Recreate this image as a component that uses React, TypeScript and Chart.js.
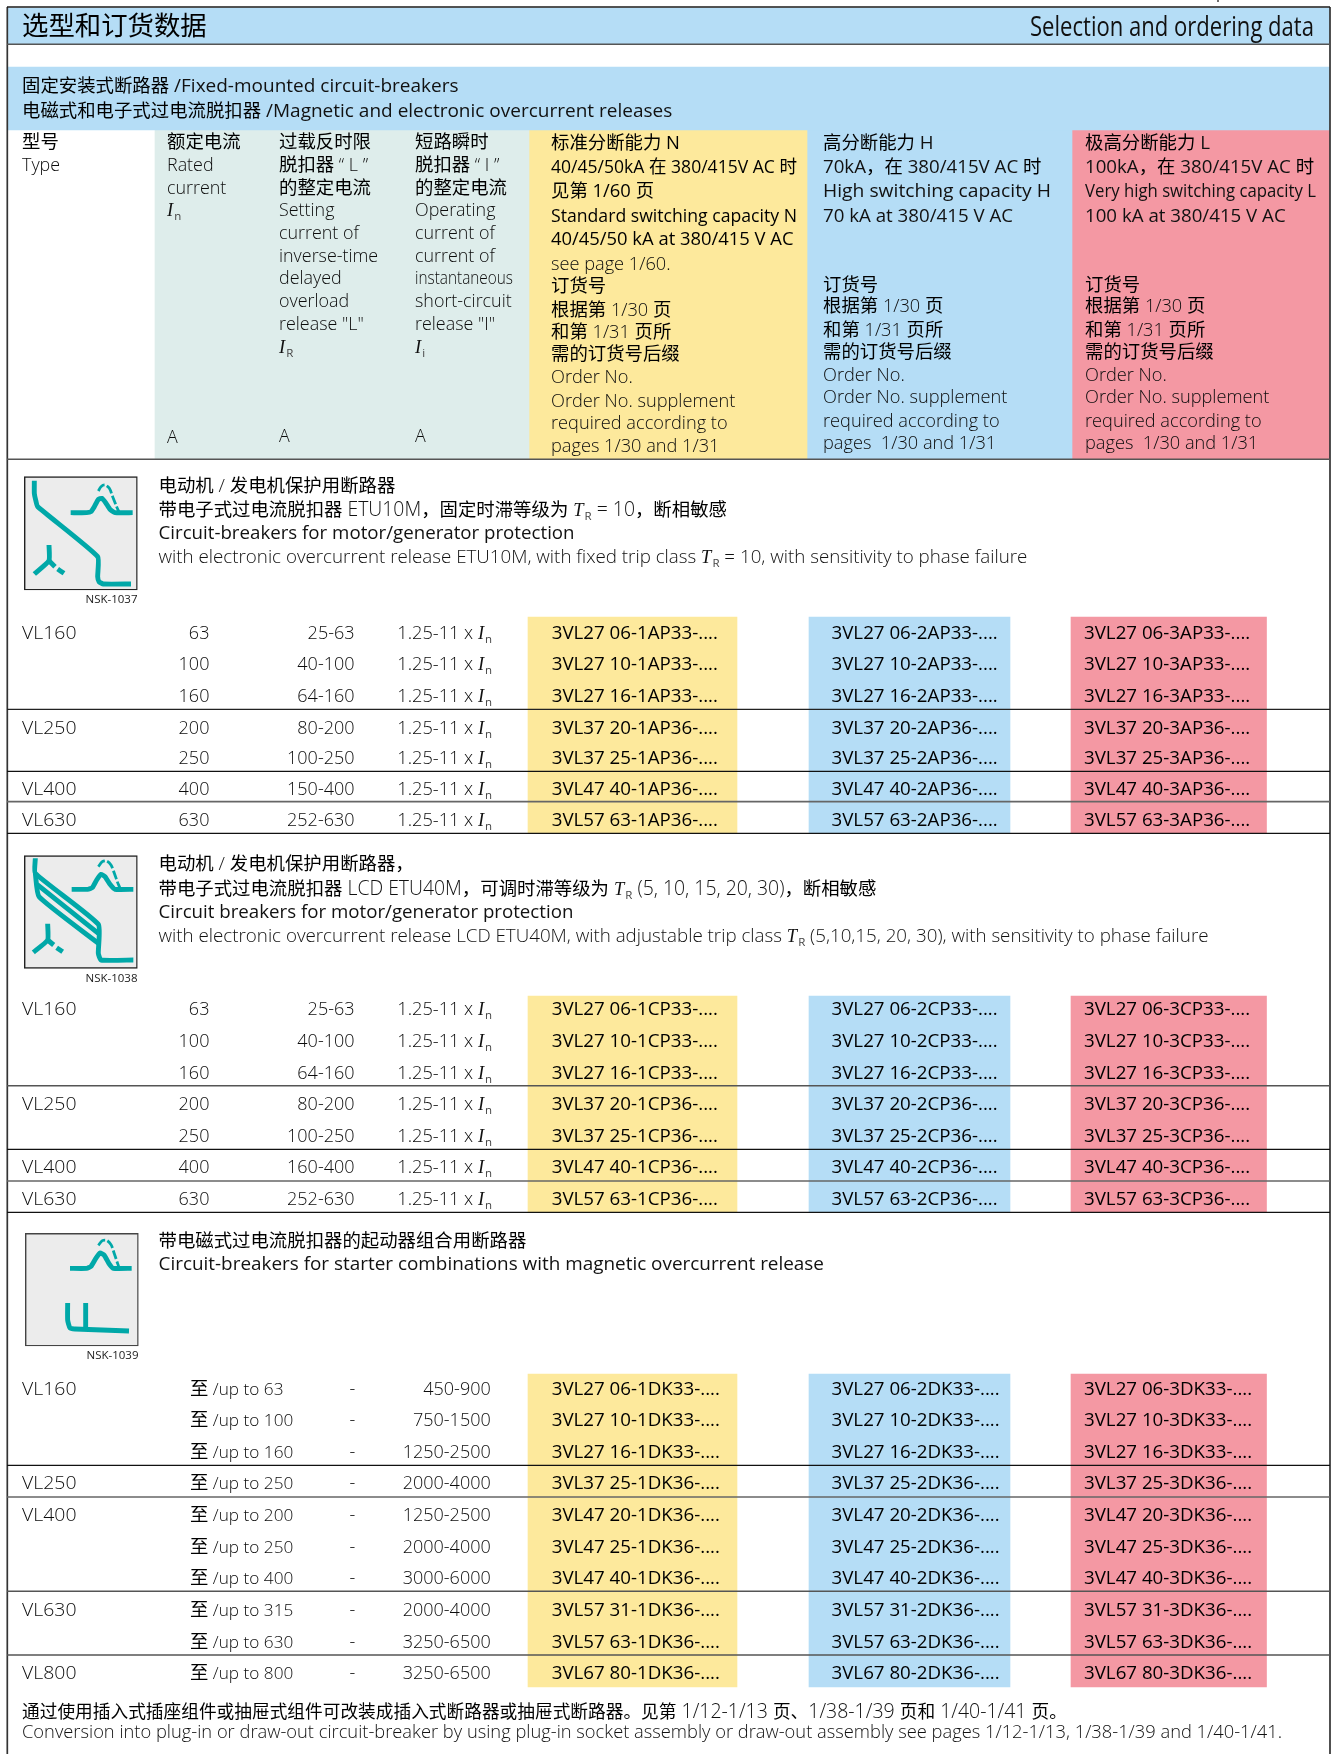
import React, { useEffect, useRef } from "react";
import { Chart, registerables } from "chart.js";
Chart.register(...registerables);

// ---------- content ----------
const TITLE_ZH = "选型和订货数据";
const TITLE_EN = "Selection and ordering data";
const BAND_LINES = ["固定安装式断路器 /Fixed-mounted circuit-breakers", "电磁式和电子式过电流脱扣器 /Magnetic and electronic overcurrent releases"];
const HEAD_TYPE = ["型号", "Type"];
const HEAD_RATED = ["额定电流", "Rated", "current", "{I|n}"];
const HEAD_SETTING = ["过载反时限", "脱扣器 “ L ”", "的整定电流", "Setting", "current of", "inverse-time", "delayed", "overload", 'release "L"', "{I|R}"];
const HEAD_OPERATING = ["短路瞬时", "脱扣器 “ I ”", "的整定电流", "Operating", "current of", "current of", "instantaneous", "short-circuit", 'release "I"', "{I|i}"];
const HEAD_N = ["标准分断能力 N", "40/45/50kA 在 380/415V AC 时", "见第 1/60 页", "Standard switching capacity N", "40/45/50 kA at 380/415 V AC", "see page 1/60.", "订货号", "根据第 1/30 页", "和第 1/31 页所", "需的订货号后缀", "Order No.", "Order No. supplement", "required according to", "pages 1/30 and 1/31"];
const HEAD_H_TOP = ["高分断能力 H", "70kA，在 380/415V AC 时", "High switching capacity H", "70 kA at 380/415 V AC"];
const HEAD_L_TOP = ["极高分断能力 L", "100kA，在 380/415V AC 时", "Very high switching capacity L", "100 kA at 380/415 V AC"];
const HEAD_LOW = ["订货号", "根据第 1/30 页", "和第 1/31 页所", "需的订货号后缀", "Order No.", "Order No. supplement", "required according to", "pages  1/30 and 1/31"];
const UNIT = "A";

const G1_TEXT = ["电动机 / 发电机保护用断路器", "带电子式过电流脱扣器 ETU10M，固定时滞等级为 {T|R} = 10，断相敏感", "Circuit-breakers for motor/generator protection", "with electronic overcurrent release ETU10M, with fixed trip class {T|R} = 10, with sensitivity to phase failure"];
const G2_TEXT = ["电动机 / 发电机保护用断路器，", "带电子式过电流脱扣器 LCD ETU40M，可调时滞等级为 {T|R} (5, 10, 15, 20, 30)，断相敏感", "Circuit breakers for motor/generator protection", "with electronic overcurrent release LCD ETU40M, with adjustable trip class {T|R} (5,10,15, 20, 30), with sensitivity to phase failure"];
const G3_TEXT = ["带电磁式过电流脱扣器的起动器组合用断路器", "Circuit-breakers for starter combinations with magnetic overcurrent release"];
const ICON_CODES = ["NSK-1037", "NSK-1038", "NSK-1039"];

const G1_TYPES = ["VL160", "", "", "VL250", "", "VL400", "VL630"];
const G1_RATED = ["63", "100", "160", "200", "250", "400", "630"];
const G1_SETTING = ["25-63", "40-100", "64-160", "80-200", "100-250", "150-400", "252-630"];
const G1_OPERATING = "1.25-11 x {I|n}";
const G1_STEMS = ["3VL27 06", "3VL27 10", "3VL27 16", "3VL37 20", "3VL37 25", "3VL47 40", "3VL57 63"];
const G1_TAILS = ["AP33", "AP33", "AP33", "AP36", "AP36", "AP36", "AP36"];

const G2_TYPES = ["VL160", "", "", "VL250", "", "VL400", "VL630"];
const G2_RATED = ["63", "100", "160", "200", "250", "400", "630"];
const G2_SETTING = ["25-63", "40-100", "64-160", "80-200", "100-250", "160-400", "252-630"];
const G2_STEMS = ["3VL27 06", "3VL27 10", "3VL27 16", "3VL37 20", "3VL37 25", "3VL47 40", "3VL57 63"];
const G2_TAILS = ["CP33", "CP33", "CP33", "CP36", "CP36", "CP36", "CP36"];

const G3_TYPES = ["VL160", "", "", "VL250", "VL400", "", "", "VL630", "", "VL800"];
const G3_UPTO = ["63", "100", "160", "250", "200", "250", "400", "315", "630", "800"];
const G3_RANGE = ["450-900", "750-1500", "1250-2500", "2000-4000", "1250-2500", "2000-4000", "3000-6000", "2000-4000", "3250-6500", "3250-6500"];
const G3_STEMS = ["3VL27 06", "3VL27 10", "3VL27 16", "3VL37 25", "3VL47 20", "3VL47 25", "3VL47 40", "3VL57 31", "3VL57 63", "3VL67 80"];
const G3_TAILS = ["DK33", "DK33", "DK33", "DK36", "DK36", "DK36", "DK36", "DK36", "DK36", "DK36"];
const BREAKING_DIGITS = ["1", "2", "3"];

const FOOT_ZH = "通过使用插入式插座组件或抽屉式组件可改装成插入式断路器或抽屉式断路器。见第 1/12-1/13 页、1/38-1/39 页和 1/40-1/41 页。";
const FOOT_EN = "Conversion into plug-in or draw-out circuit-breaker by using plug-in socket assembly or draw-out assembly see pages 1/12-1/13, 1/38-1/39 and 1/40-1/41.";

// ---------- layout (page units) ----------
const W = 1337, H = 1754;
const C = { blue: "#b5ddf6", yellow: "#fde99c", green: "#deedeb", red: "#f498a3", teal: "#00a8a8", box: "#ececec", ink: "#000", soft: "#0c0c0c" };
const G1_Y = [632.7, 663.7, 695.7, 727.7, 757.7, 788.7, 819.7];
const G2_Y = [1008.3, 1040.3, 1072.3, 1103.7, 1135.7, 1166.7, 1198.7];
const G3_Y = [1389, 1420, 1451.7, 1482.7, 1514.7, 1546.7, 1577.7, 1609.7, 1641.7, 1672.7];
const ORDER_X = [551.7, 831.5, 1084];
const BLOCK_X = [[528, 737], [809, 1010], [1071, 1266.5]];
const BLOCK_Y = [[617, 833], [996, 1212], [1374, 1687]];
const LINE_Y_10 = [141.7, 165, 187.7, 210, 232.7, 256, 278, 301, 324, 347];
const LINE_Y_N = [142.7, 166.7, 190.7, 215, 238.7, 263, 285.7, 309, 331.7, 353, 376.7, 400, 422, 445];
const LINE_Y_TOP = [142.7, 166.7, 190.7, 215];
const LINE_Y_LOW = [284, 305.7, 329, 351.7, 374, 396.7, 420, 442.3];
const RULES: [number, string, number][] = [
  [7, "#1a1a1a", 1.6], [44.3, "#555", 1.4], [459.3, "#555", 1.6],
  [709.3, "#222", 1.2], [771.3, "#111", 1.2], [801.7, "#666", 1.7], [833.3, "#111", 1.2],
  [1085.7, "#555", 1.5], [1149.3, "#111", 1.2], [1181, "#666", 1.7], [1212.3, "#111", 1.2],
  [1465.3, "#111", 1.2], [1497, "#666", 1.6], [1591.3, "#555", 1.5], [1655, "#555", 1.5],
];
const ICON_ORIGIN = [[15, 465], [15, 845], [15, 1222]];
const ICON_BOX = [[28, 367, 35, 375], [28, 367, 32, 370], [31, 370, 34, 372]];
type P = [number, number];
const ICON_STROKES: P[][][] = [
  [
    [[58, 47], [58, 85], [62, 105], [68, 125], [248, 275], [248, 335], [252, 350], [265, 357], [348, 357]],
    [[167, 143], [215, 143], [228, 140], [238, 125], [250, 103], [260, 100], [272, 113], [285, 133], [300, 143], [353, 143]],
    [[102, 240], [102, 287], [58, 327]], [[102, 287], [120, 305]], [[128, 312], [147, 325]],
  ],
  [
    [[61, 40], [61, 85], [250, 238], [250, 325], [258, 345], [355, 345]],
    [[61, 85], [72, 155], [250, 295]], [[66, 118], [250, 265]],
    [[170, 133], [218, 133], [232, 128], [245, 105], [258, 88], [270, 95], [285, 118], [300, 133], [355, 133]],
    [[98, 236], [98, 285], [55, 322]], [[98, 285], [116, 300]], [[125, 308], [143, 320]],
  ],
  [
    [[165, 139], [215, 139], [228, 133], [242, 110], [255, 93], [268, 100], [282, 125], [295, 139], [350, 139]],
    [[158, 243], [158, 295], [165, 318], [180, 321], [342, 327]], [[212, 243], [212, 318]],
  ],
];
const ICON_DASH: P[][] = [
  [[250, 78], [258, 65], [270, 60], [283, 70], [293, 95], [305, 125], [313, 143]],
  [[250, 65], [262, 50], [275, 48], [288, 60], [298, 85], [310, 118], [317, 133]],
  [[250, 70], [262, 56], [275, 55], [288, 68], [298, 95], [308, 125], [313, 139]],
];

// ---------- dataset builders ----------
const band = (x0: number, x1: number, y0: number, y1: number, color: string, order = 5, extra: any = {}) => ({
  type: "bar", data: [{ x: (x0 + x1) / 2, y: [y0, y1] }], barThickness: x1 - x0, backgroundColor: color,
  stack: "cells", order, borderSkipped: false, borderWidth: 0, ...extra,
});
const path = (pts: P[], color: string, width: number, order = 1, extra: any = {}) => ({
  type: "line", data: pts.map(([x, y]) => ({ x, y })), borderColor: color, borderWidth: width, pointRadius: 0,
  fill: false, order, tension: 0, ...extra,
});
function buildDatasets() {
  const ds: any[] = [
    band(8, 1329.5, 8, 44, C.blue),
    band(8, 1329.5, 67, 130, C.blue),
    band(155, 529, 130, 459, C.green),
    band(529, 807, 130, 459, C.yellow),
    band(807, 1072, 130, 459, C.blue),
    band(1072, 1329.5, 127.7, 459, C.red),
  ];
  const cols = [C.yellow, C.blue, C.red];
  BLOCK_Y.forEach(([a, b]) => BLOCK_X.forEach(([l, r], i) => ds.push(band(l, r, a, b, cols[i]))));
  RULES.forEach(([y, c, w]) => ds.push(path([[7, y], [1330, y]], c, w, 2)));
  ds.push(path([[7.3, 7], [7.3, H]], "#333", 1.7, 2));
  ds.push(path([[1330, 7], [1330, H]], "#333", 1.7, 2));
  ds.push(path([[1218, 0], [1218, 2]], "#333", 1.4, 2));
  ICON_ORIGIN.forEach(([ox, oy], k) => {
    const map = (p: P): P => [ox + p[0] / 3, oy + p[1] / 3];
    const [a, b, c, d] = ICON_BOX[k];
    ds.push(band(ox + a / 3, ox + b / 3, oy + c / 3, oy + d / 3, C.box, 4, { borderWidth: 1.4, borderColor: k === 2 ? "#444" : "#222" }));
    ICON_STROKES[k].forEach((s) => ds.push(path(s.map(map), C.teal, 4.9, 1, { tension: 0.15, borderCapStyle: "butt", borderJoinStyle: "round" })));
    ds.push(path(ICON_DASH[k].map(map), C.teal, 2.8, 1, { tension: 0.3, borderDash: [9, 2.5] }));
  });
  return ds;
}

// ---------- text ----------
const LATIN = '"Open Sans"';
const CJK = '"Noto Sans CJK SC"';
const TOK = /(\{[A-Za-z]\|[A-Za-z]\}|[\u3000-\u303F\u3400-\u9FFF\uFF00-\uFFEF]+)/;
type St = { size?: number; cjk?: number; color?: string; cjkColor?: string; align?: string; fit?: number; weight?: number; sx?: number };
const FIT: Record<string, number> = {
  instantaneous: 98, "Very high switching capacity L": 231, "Standard switching capacity N": 246,
  "40/45/50kA 在 380/415V AC 时": 246, "High switching capacity H": 228,
};
function put(ctx: CanvasRenderingContext2D, s: string, x: number, yc: number, st: St = {}) {
  if (!s) return;
  const size = st.size ?? 17.9, cjk = st.cjk ?? 18.4, color = st.color ?? C.soft, cjkColor = st.cjkColor ?? "#000";
  const weight = st.weight ?? 300, y = yc + 0.36 * size;
  const parts = s.split(TOK).filter(Boolean);
  const measure = (t: string) => {
    const m = t.match(/^\{(.)\|(.)\}$/);
    if (m) {
      ctx.font = `italic 18.5px "Liberation Serif"`; let w = ctx.measureText(m[1]).width + 1;
      ctx.font = `400 11.5px ${LATIN}`; w += ctx.measureText(m[2]).width; return w;
    }
    ctx.font = TOK.test(t) ? `400 ${cjk}px ${CJK}` : `${weight} ${size}px ${LATIN}`;
    return ctx.measureText(t).width;
  };
  const raw = parts.reduce((a, t) => a + measure(t), 0);
  const fit = st.fit ?? FIT[s];
  const sx = fit ? fit / raw : st.sx ?? 1;
  const total = raw * sx;
  ctx.save();
  ctx.translate(st.align === "right" ? x - total : x, y);
  ctx.scale(sx, 1);
  ctx.textBaseline = "alphabetic";
  ctx.textAlign = "left";
  let cx = 0;
  for (const t of parts) {
    const m = t.match(/^\{(.)\|(.)\}$/);
    if (m) {
      ctx.fillStyle = "#111"; ctx.font = `italic 18.5px "Liberation Serif"`;
      ctx.fillText(m[1], cx, 0); cx += ctx.measureText(m[1]).width + 1;
      ctx.font = `400 11.5px ${LATIN}`; ctx.fillStyle = "#444";
      ctx.fillText(m[2], cx, 4); cx += ctx.measureText(m[2]).width;
    } else {
      const w = measure(t);
      ctx.fillStyle = TOK.test(t) ? cjkColor : color;
      ctx.fillText(t, cx, 0);
      cx += w;
    }
  }
  ctx.restore();
}
const textPlugin = {
  id: "tableText",
  afterDatasetsDraw(chart: any) {
    const ctx = chart.ctx as CanvasRenderingContext2D;
    const X = (v: number) => chart.scales.x.getPixelForValue(v);
    const Y = (v: number) => chart.scales.y.getPixelForValue(v);
    const t = (s: string, x: number, y: number, st: St = {}) => put(ctx, s, X(x), Y(y), st);
    t(TITLE_ZH, 22, 25.5, { size: 26, cjk: 26.4 });
    t(TITLE_EN, 1314, 26, { size: 27, color: "#111", align: "right", fit: 284, weight: 400 });
    BAND_LINES.forEach((s, i) => t(s, 22, [85, 109.7][i], { color: "#111", size: 19, weight: 400 }));
    HEAD_TYPE.forEach((s, i) => t(s, 22, [141.7, 165][i]));
    HEAD_RATED.forEach((s, i) => t(s, 167, LINE_Y_10[i]));
    HEAD_SETTING.forEach((s, i) => t(s, 279, LINE_Y_10[i]));
    HEAD_OPERATING.forEach((s, i) => t(s, 415, LINE_Y_10[i]));
    [[167, 436.7], [279, 436], [415, 436]].forEach(([x, y]) => t(UNIT, x, y));
    HEAD_N.forEach((s, i) => t(s, 551, LINE_Y_N[i], i < 5 ? { color: "#000", size: 18.4, weight: 400 } : { size: 18.2 }));
    HEAD_H_TOP.forEach((s, i) => t(s, 823, LINE_Y_TOP[i], { color: "#111", size: 18.7, weight: 400 }));
    HEAD_L_TOP.forEach((s, i) => t(s, 1085, LINE_Y_TOP[i], { color: "#111", size: 18.7, weight: 400 }));
    HEAD_LOW.forEach((s, i) => { t(s, 823, LINE_Y_LOW[i], { size: 18.2 }); t(s, 1085, LINE_Y_LOW[i], { size: 18.2 }); });

    [[G1_TEXT, [485, 508.7, 532.7, 556.7]], [G2_TEXT, [863.3, 887.7, 911.7, 935.7]], [G3_TEXT, [1240, 1263.3]]].forEach(([lines, ys]: any) =>
      lines.forEach((s: string, i: number) => {
        const strong = i === 2 || (lines.length === 2 && i === 1);
        const st: St = strong ? { color: "#111", size: lines.length === 2 ? 18.9 : 18.7, weight: 400 }
          : { color: "#111", size: i === 1 ? 19.4 : 18.75 };
        t(s, 158.5, ys[i], st);
      }));
    ICON_CODES.forEach((s, i) => t(s, [137.5, 137.5, 138.5][i], [599, 978, 1355][i], { size: 11.5, color: "#222", align: "right", weight: 400 }));

    const orders = (ys: number[], stems: string[], tails: string[]) =>
      ys.forEach((y, r) => BREAKING_DIGITS.forEach((d, c) => t(`${stems[r]}-${d}${tails[r]}-....`, ORDER_X[c], y, { color: "#000", size: 18, sx: 1.04, weight: 400 })));
    G1_Y.forEach((y, r) => {
      t(G1_TYPES[r], 22, y, { size: 18, sx: 1.08 }); t(G1_RATED[r], 209.4, y, { align: "right", size: 18 });
      t(G1_SETTING[r], 354.5, y, { align: "right", size: 18 }); t(G1_OPERATING, 397.3, y, { size: 18.2 });
    });
    orders(G1_Y, G1_STEMS, G1_TAILS);
    G2_Y.forEach((y, r) => {
      t(G2_TYPES[r], 22, y, { size: 18, sx: 1.08 }); t(G2_RATED[r], 209.4, y, { align: "right", size: 18 });
      t(G2_SETTING[r], 354.5, y, { align: "right", size: 18 }); t(G1_OPERATING, 397.3, y, { size: 18.2 });
    });
    orders(G2_Y, G2_STEMS, G2_TAILS);
    G3_Y.forEach((y, r) => {
      t(G3_TYPES[r], 22, y, { size: 18, sx: 1.08 });
      t(`至 /up to ${G3_UPTO[r]}`, 190, y, { size: 17.2 });
      t("-", 349.5, y);
      t(G3_RANGE[r], 490.7, y, { align: "right", size: 18 });
    });
    orders(G3_Y, G3_STEMS, G3_TAILS);
    t(FOOT_ZH, 22, 1711, { size: 19.5, cjk: 17.7, color: "#111" });
    t(FOOT_EN, 22, 1731.7, { size: 17.6, color: "#111", fit: 1260 });
  },
};

export default function App() {
  const ref = useRef<HTMLCanvasElement>(null);
  useEffect(() => {
    const chart = new Chart(ref.current as HTMLCanvasElement, {
      type: "bar",
      data: { datasets: buildDatasets() as any },
      options: {
        animation: false, responsive: false, devicePixelRatio: 1, events: [],
        layout: { padding: 0 },
        plugins: { legend: { display: false }, tooltip: { enabled: false }, title: { display: false } },
        scales: {
          x: { type: "linear", min: 0, max: W, display: false, offset: false, grid: { display: false } },
          y: { type: "linear", min: 0, max: H, reverse: true, display: false, stacked: false, beginAtZero: false, grid: { display: false } },
        },
      },
      plugins: [textPlugin as any],
    });
    return () => chart.destroy();
  }, []);
  return (
    <div style={{ position: "absolute", left: 0, top: 0, width: W, height: H, background: "#fff" }}>
      <canvas ref={ref} width={W} height={H} style={{ display: "block", width: W, height: H }} />
    </div>
  );
}
